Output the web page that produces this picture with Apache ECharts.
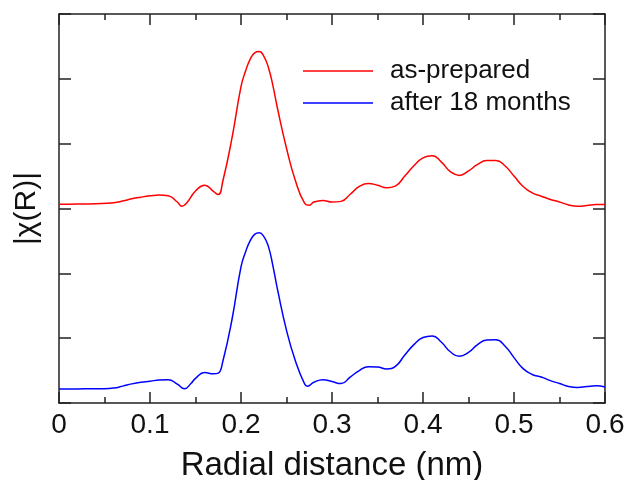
<!DOCTYPE html>
<html>
<head>
<meta charset="utf-8">
<script src="https://cdn.jsdelivr.net/npm/echarts@6/dist/echarts.min.js"></script>
<style>html,body{margin:0;padding:0;background:#fff;}#c{width:632px;height:480px;}</style>
</head>
<body>
<div id="c"></div>
<script>
var seriesNames = ['as-prepared', 'after 18 months'];
var xTickLabels = ['0', '0.1', '0.2', '0.3', '0.4', '0.5', '0.6'];

var redX = [0.00,0.02,0.04,0.06,0.07,0.08,0.09,0.10,0.11,0.12,0.13,0.135,0.14,0.15,0.16,0.17,0.175,0.18,0.19,0.20,0.205,0.21,0.215,0.22,0.225,0.23,0.235,0.24,0.25,0.26,0.27,0.275,0.28,0.29,0.30,0.31,0.32,0.33,0.34,0.35,0.36,0.37,0.38,0.39,0.40,0.41,0.42,0.43,0.44,0.45,0.46,0.47,0.48,0.49,0.50,0.51,0.52,0.53,0.54,0.55,0.56,0.57,0.58,0.59,0.60];
var redY = [3.065,3.068,3.075,3.090,3.115,3.150,3.175,3.195,3.208,3.198,3.100,3.034,3.080,3.270,3.360,3.260,3.215,3.420,4.080,4.880,5.120,5.300,5.400,5.420,5.350,5.180,4.900,4.550,3.930,3.420,3.080,3.050,3.100,3.125,3.100,3.110,3.220,3.340,3.385,3.360,3.320,3.350,3.500,3.660,3.780,3.815,3.720,3.570,3.510,3.580,3.680,3.740,3.740,3.660,3.500,3.340,3.240,3.190,3.140,3.100,3.055,3.034,3.045,3.060,3.060];

var blueX = [0.00,0.02,0.04,0.05,0.06,0.07,0.08,0.09,0.10,0.11,0.12,0.13,0.138,0.145,0.15,0.16,0.17,0.175,0.18,0.19,0.20,0.205,0.21,0.215,0.22,0.225,0.23,0.235,0.24,0.25,0.26,0.27,0.273,0.28,0.29,0.30,0.31,0.32,0.33,0.34,0.35,0.36,0.37,0.38,0.39,0.40,0.41,0.42,0.43,0.44,0.45,0.46,0.47,0.48,0.49,0.50,0.51,0.52,0.53,0.54,0.55,0.56,0.57,0.58,0.59,0.60];
var blueY = [0.216,0.217,0.220,0.220,0.230,0.260,0.295,0.320,0.335,0.355,0.360,0.290,0.220,0.300,0.380,0.470,0.450,0.460,0.640,1.280,2.100,2.330,2.500,2.600,2.625,2.570,2.420,2.120,1.760,1.120,0.640,0.290,0.260,0.320,0.360,0.330,0.300,0.400,0.500,0.560,0.555,0.525,0.570,0.740,0.900,1.010,1.035,0.940,0.790,0.720,0.780,0.900,0.970,0.975,0.880,0.700,0.530,0.440,0.400,0.345,0.300,0.255,0.240,0.255,0.265,0.247];

function pairs(xs, ys) { return xs.map(function (x, i) { return [x, ys[i]]; }); }

var FONT = '"Liberation Sans", Arial, sans-serif';
var AX = '#222';
var chart = echarts.init(document.getElementById('c'), null, {renderer: 'canvas'});

var xCommon = {
  type: 'value', min: 0, max: 0.6, interval: 0.1,
  axisLine: {show: true, onZero: false, lineStyle: {color: AX, width: 1.5}},
  axisTick: {show: true, inside: true, length: 11, lineStyle: {color: AX, width: 1.5}},
  minorTick: {show: true, splitNumber: 2, length: 6, lineStyle: {color: AX, width: 1.5}},
  splitLine: {show: false}, minorSplitLine: {show: false}
};
var yCommon = {
  type: 'value', min: 0, max: 6, interval: 1,
  axisLine: {show: true, onZero: false, lineStyle: {color: AX, width: 1.5}},
  axisTick: {show: true, inside: true, length: 12, lineStyle: {color: AX, width: 1.5}},
  axisLabel: {show: false},
  splitLine: {show: false}
};

chart.setOption({
  animation: false,
  backgroundColor: '#ffffff',
  textStyle: {fontFamily: FONT},
  grid: {left: 59, right: 27, top: 14, bottom: 77, containLabel: false, outerBoundsMode: 'none'},
  legend: {
    orient: 'vertical', left: 298, top: 53,
    icon: 'rect', itemWidth: 70, itemHeight: 1.5, itemGap: 6,
    data: seriesNames,
    textStyle: {fontFamily: FONT, fontSize: 26, lineHeight: 26, color: '#111', padding: [0, 0, 0, 12]}
  },
  xAxis: [
    Object.assign({}, xCommon, {
      position: 'bottom',
      name: 'Radial distance (nm)', nameLocation: 'middle', nameGap: 46,
      nameTextStyle: {fontFamily: FONT, fontSize: 33, color: '#111'},
      axisLabel: {show: true, margin: 8, fontFamily: FONT, fontSize: 28, color: '#111',
        formatter: function (v) { return xTickLabels[Math.round(v * 10)]; }}
    }),
    Object.assign({}, xCommon, {position: 'top', axisLabel: {show: false}})
  ],
  yAxis: [
    Object.assign({}, yCommon, {
      position: 'left',
      name: '|χ(R)|', nameLocation: 'middle', nameGap: 17,
      nameTextStyle: {fontFamily: FONT, fontSize: 30, color: '#111'}
    }),
    Object.assign({}, yCommon, {position: 'right'})
  ],
  series: [
    {name: seriesNames[0], type: 'line', data: pairs(redX, redY), symbol: 'none', smooth: 0.5,
      lineStyle: {color: '#ff0000', width: 1.5}, itemStyle: {color: '#ff0000'}},
    {name: seriesNames[1], type: 'line', data: pairs(blueX, blueY), symbol: 'none', smooth: 0.5,
      lineStyle: {color: '#0000ff', width: 1.5}, itemStyle: {color: '#0000ff'}}
  ]
});
</script>
</body>
</html>
